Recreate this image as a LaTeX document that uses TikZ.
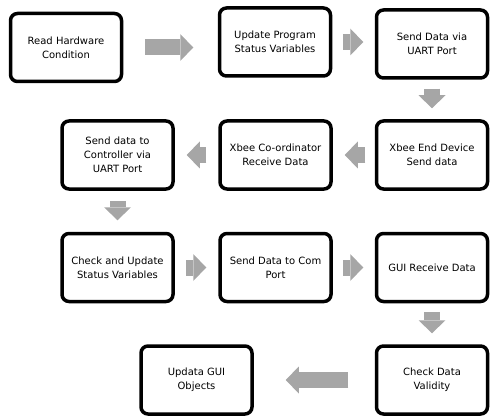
\documentclass[tikz,border=0pt]{standalone}
\usepackage{fontspec}
\setmainfont{DejaVu Sans}
\usetikzlibrary{arrows.meta}

\begin{document}
\begin{tikzpicture}[
  x=1pt,y=-1pt,
  every node/.style={font=\fontsize{10}{14}\selectfont},
  box/.style={draw,line width=3.5pt,rounded corners=7pt,fill=white,minimum width=111pt,minimum height=68pt,align=center},
  flow/.style={draw=gray!70,line width=16pt,-{Triangle[length=13pt,width=27pt,line width=0pt,fill=gray!70]}}
]
  \useasboundingbox (0,0) rectangle (490,417);
  % process steps
  \node[box] (read) at (66,47.5) {Read Hardware\\Condition};
  \node[box] (update) at (275,42) {Update Program\\Status Variables};
  \node[box] (senduart) at (432,44) {Send Data via\\UART Port};
  \node[box] (enddevice) at (432,155) {Xbee End Device\\Send data};
  \node[box] (coordinator) at (275.5,155) {Xbee Co-ordinator\\Receive Data};
  \node[box] (controller) at (117.5,155) {Send data to\\Controller via\\UART Port};
  \node[box] (checkupdate) at (117.5,267.5) {Check and Update\\Status Variables};
  \node[box] (comport) at (275.5,267.5) {Send Data to Com\\Port};
  \node[box] (guireceive) at (432,267.5) {GUI Receive Data};
  \node[box] (validity) at (432,380) {Check Data\\Validity};
  \node[box] (guiobjects) at (196.5,380) {Updata GUI\\Objects};
  % block arrows
  \draw[flow,shorten <=21.5pt,shorten >=24.5pt] (read.east) -- (read.east -| update.west);
  \draw[flow,shorten <=10.5pt,shorten >=11.5pt] (update.east) -- (update.east -| senduart.west);
  \draw[flow,shorten <=9pt,shorten >=11pt] (senduart.south) -- (enddevice.north);
  \draw[flow,shorten <=9.5pt,shorten >=12pt] (enddevice.west) -- (coordinator.east);
  \draw[flow,shorten <=12pt,shorten >=12pt] (coordinator.west) -- (controller.east);
  \draw[flow,shorten <=10pt,shorten >=11.5pt] (controller.south) -- (checkupdate.north);
  \draw[flow,shorten <=11pt,shorten >=12pt] (checkupdate.east) -- (comport.west);
  \draw[flow,shorten <=10pt,shorten >=11.5pt] (comport.east) -- (guireceive.west);
  \draw[flow,shorten <=8.5pt,shorten >=11pt] (guireceive.south) -- (validity.north);
  \draw[flow,shorten <=26.5pt,shorten >=32pt] (validity.west) -- (validity.west -| guiobjects.east);
\end{tikzpicture}
\end{document}
